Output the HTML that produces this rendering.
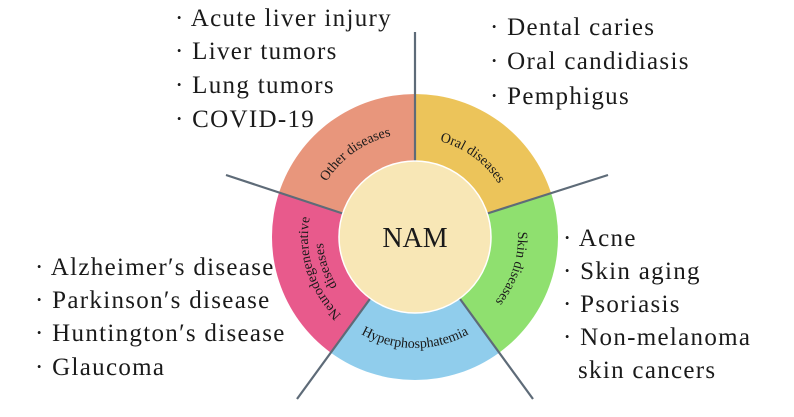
<!DOCTYPE html>
<html><head><meta charset="utf-8"><style>
html,body{margin:0;padding:0;background:#fff;}
svg{display:block;}
.l{font-family:"Liberation Serif",serif;font-size:25px;letter-spacing:1.3px;fill:#1a1a1a;}
.s{font-family:"Liberation Serif",serif;font-size:14px;fill:#1a1a1a;}
</style></head><body>
<svg width="794" height="417" viewBox="0 0 794 417" xmlns="http://www.w3.org/2000/svg">
<defs>
<path id="pOral" d="M 415 138 A 99 99 0 0 1 509.2 206.4"/>
<path id="pOther" d="M 316.1 203.8 A 104 104 0 0 1 415 133"/>
<path id="pSkin" d="M 513 205.2 A 103 103 0 0 1 475.5 320.3"/>
<path id="pHyp" d="M 349.8 326.8 A 111 111 0 0 0 480.2 326.8"/>
<path id="pNeu1" d="M 352.1 323.6 A 107 107 0 0 1 313.2 203.9"/>
<path id="pNeu2" d="M 360.9 311.4 A 92 92 0 0 1 327.5 208.6"/>
</defs>
<path d="M415 237 L415 94 A143 143 0 0 1 551 192.8 Z" fill="#ECC45A"/>
<path d="M415 237 L551 192.8 A143 143 0 0 1 499.1 352.7 Z" fill="#8FE06F"/>
<path d="M415 237 L499.1 352.7 A143 143 0 0 1 330.9 352.7 Z" fill="#90CDEC"/>
<path d="M415 237 L330.9 352.7 A143 143 0 0 1 279 192.8 Z" fill="#E85A8C"/>
<path d="M415 237 L279 192.8 A143 143 0 0 1 415 94 Z" fill="#E8967C"/>
<g stroke="#5E6B78" stroke-width="2.2">
<line x1="415" y1="161" x2="415" y2="32"/>
<line x1="487.3" y1="213.5" x2="608" y2="175"/>
<line x1="459.7" y1="298.5" x2="533" y2="399"/>
<line x1="370.3" y1="298.5" x2="297" y2="399"/>
<line x1="342.7" y1="213.5" x2="226" y2="175"/>
</g>
<circle cx="415" cy="237" r="76" fill="#F8E7B6" stroke="#fff" stroke-width="1.5"/>
<text x="415" y="247" text-anchor="middle" font-family="Liberation Serif,serif" font-size="28" fill="#1a1a1a">NAM</text>
<text class="s"><textPath href="#pOral" startOffset="50%" text-anchor="middle">Oral diseases</textPath></text>
<text class="s"><textPath href="#pOther" startOffset="50%" text-anchor="middle">Other diseases</textPath></text>
<text class="s"><textPath href="#pSkin" startOffset="50%" text-anchor="middle">Skin diseases</textPath></text>
<text class="s"><textPath href="#pHyp" startOffset="50%" text-anchor="middle">Hyperphosphatemia</textPath></text>
<text class="s"><textPath href="#pNeu1" startOffset="50%" text-anchor="middle">Neurodegenerative</textPath></text>
<text class="s"><textPath href="#pNeu2" startOffset="50%" text-anchor="middle">diseases</textPath></text>
<text class="l" x="175" y="26">· Acute liver injury</text>
<text class="l" x="175" y="59">· Liver tumors</text>
<text class="l" x="175" y="93">· Lung tumors</text>
<text class="l" x="175" y="127">· COVID-19</text>
<text class="l" x="490" y="35">· Dental caries</text>
<text class="l" x="490" y="69">· Oral candidiasis</text>
<text class="l" x="490" y="104">· Pemphigus</text>
<text class="l" x="563" y="246">· Acne</text>
<text class="l" x="563" y="279">· Skin aging</text>
<text class="l" x="563" y="312">· Psoriasis</text>
<text class="l" x="563" y="345">· Non-melanoma</text>
<text class="l" x="578" y="378">skin cancers</text>
<text class="l" x="35" y="275">· Alzheimer′s disease</text>
<text class="l" x="35" y="308">· Parkinson′s disease</text>
<text class="l" x="35" y="341">· Huntington′s disease</text>
<text class="l" x="35" y="375">· Glaucoma</text>
</svg>
</body></html>
